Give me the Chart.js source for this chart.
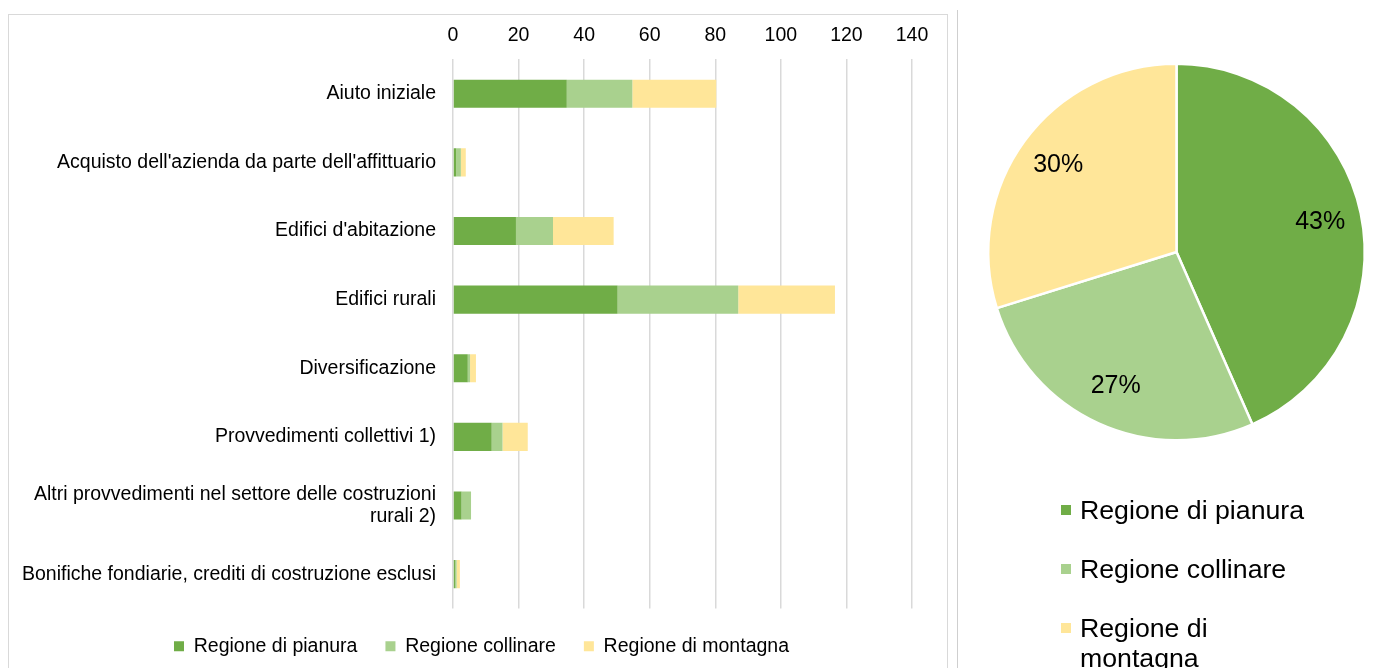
<!DOCTYPE html>
<html>
<head>
<meta charset="utf-8">
<script src="https://cdn.jsdelivr.net/npm/chart.js@4.4.1/dist/chart.umd.min.js"></script>
<style>
  html, body { margin: 0; padding: 0; background: #fff; overflow: hidden; }
  body { width: 1386px; height: 668px; position: relative; font-family: "Liberation Sans", Arial, sans-serif; }
  #barBox { position: absolute; left: 8px; top: 14px; width: 940px; height: 700px; border: 1px solid #d9d9d9; box-sizing: border-box; }
  #barChart { position: absolute; left: 0; top: -11px; }
  #pieBox { position: absolute; left: 957px; top: 10px; width: 429px; height: 700px; border-left: 1px solid #cfcfcf; }
  #pieChart { position: absolute; left: 0; top: -10px; }
  #pieLegend { position: absolute; left: 103px; top: 485px; margin: 0; padding: 0; list-style: none; }
  #pieLegend li { position: relative; padding-left: 19px; width: 240px; font-size: 26.7px; line-height: 30px; color: #000; margin-bottom: 29px; }
  #pieLegend li span { position: absolute; left: 0; top: 10px; width: 10px; height: 10px; }
</style>
</head>
<body>
<div id="barBox"><canvas id="barChart" width="938" height="662"></canvas></div>
<div id="pieBox">
  <canvas id="pieChart" width="428" height="668"></canvas>
  <ul id="pieLegend"></ul>
</div>
<script>
// dati
const categories = [
    'Aiuto iniziale',
    "Acquisto dell'azienda da parte dell'affittuario",
    "Edifici d'abitazione",
    'Edifici rurali',
    'Diversificazione',
    'Provvedimenti collettivi 1)',
    ['Altri provvedimenti nel settore delle costruzioni', 'rurali 2)'],
    'Bonifiche fondiarie, crediti di costruzione esclusi'
];
const seriesNames = ['Regione di pianura', 'Regione collinare', 'Regione di montagna'];
const pianura   = [34.7, 1.0, 19.2, 50.2, 4.5, 11.8, 2.6, 0.6];
const collinare = [20.0, 1.4, 11.3, 36.8, 0.7, 3.3, 2.9, 0.5];
const montagna  = [25.6, 1.5, 18.5, 29.5, 1.8, 7.7, 0, 1.0];
const xTicks = [0, 20, 40, 60, 80, 100, 120, 140];

const colors = ['#70ad47', '#a9d18e', '#ffe699'];
const font = '"Liberation Sans", Arial, sans-serif';

Chart.defaults.font.family = font;
Chart.defaults.color = '#000';

// sposta un po' a destra la legenda in basso (come nell'originale)
const legendShift = {
    id: 'legendShift',
    afterLayout(chart) {
        if (chart.legend && chart.legend.lineWidths) chart.legend.lineWidths[0] -= 30;
    }
};

new Chart(document.getElementById('barChart'), {
    type: 'bar',
    data: {
        labels: categories,
        datasets: [pianura, collinare, montagna].map((d, i) => ({
            label: seriesNames[i],
            data: d,
            backgroundColor: colors[i],
            barPercentage: 0.41,
            categoryPercentage: 1
        }))
    },
    options: {
        indexAxis: 'y',
        responsive: false,
        animation: false,
        layout: { padding: { top: 8, right: 35, left: 12, bottom: 0 } },
        plugins: {
            tooltip: { enabled: false },
            legend: {
                position: 'bottom',
                labels: { boxWidth: 10, boxHeight: 10, padding: 28, font: { size: 19.5 }, color: '#000' }
            }
        },
        scales: {
            x: {
                position: 'top',
                stacked: true,
                min: xTicks[0],
                max: xTicks[xTicks.length - 1],
                ticks: { stepSize: xTicks[1] - xTicks[0], font: { size: 19.5 }, color: '#000', padding: 12 },
                grid: { color: '#d9d9d9', lineWidth: 1.5, drawTicks: false },
                border: { display: false }
            },
            y: {
                stacked: true,
                afterFit(scale) { scale.width = 432; },
                grid: { display: false, drawTicks: false },
                border: { display: false },
                ticks: { font: { size: 19.5, lineHeight: 1.1 }, color: '#000', padding: 17, autoSkip: false }
            }
        }
    },
    plugins: [legendShift]
});

// etichette percentuali sulla torta
const pctLabels = {
    id: 'pctLabels',
    afterDatasetsDraw(chart) {
        const ctx = chart.ctx;
        const data = chart.data.datasets[0].data;
        const total = data.reduce((a, b) => a + b, 0);
        ctx.save();
        ctx.font = '25px ' + font;
        ctx.fillStyle = '#000';
        ctx.textAlign = 'center';
        ctx.textBaseline = 'middle';
        chart.getDatasetMeta(0).data.forEach((arc, i) => {
            const p = arc.getProps(['x', 'y', 'startAngle', 'endAngle', 'outerRadius'], true);
            const mid = (p.startAngle + p.endAngle) / 2;
            const r = p.outerRadius * 0.78;
            ctx.fillText(Math.round(data[i] / total * 100) + '%', p.x + Math.cos(mid) * r, p.y + Math.sin(mid) * r);
        });
        ctx.restore();
    }
};

// legenda html
const htmlLegend = {
    id: 'htmlLegend',
    afterUpdate(chart) {
        const ul = document.getElementById('pieLegend');
        ul.innerHTML = '';
        const items = chart.options.plugins.legend.labels.generateLabels(chart);
        items.forEach(item => {
            const li = document.createElement('li');
            const box = document.createElement('span');
            box.style.background = item.fillStyle;
            li.appendChild(box);
            li.appendChild(document.createTextNode(item.text));
            ul.appendChild(li);
        });
    }
};

const sum = arr => arr.reduce((a, b) => a + b, 0);

new Chart(document.getElementById('pieChart'), {
    type: 'pie',
    data: {
        labels: seriesNames,
        datasets: [{
            data: [sum(pianura), sum(collinare), sum(montagna)],
            backgroundColor: colors,
            borderColor: '#fff',
            borderWidth: 2.5
        }]
    },
    options: {
        responsive: false,
        animation: false,
        layout: { padding: { top: 62, left: 29, right: 20, bottom: 226 } },
        plugins: {
            legend: { display: false },
            tooltip: { enabled: false }
        }
    },
    plugins: [pctLabels, htmlLegend]
});
</script>
</body>
</html>
